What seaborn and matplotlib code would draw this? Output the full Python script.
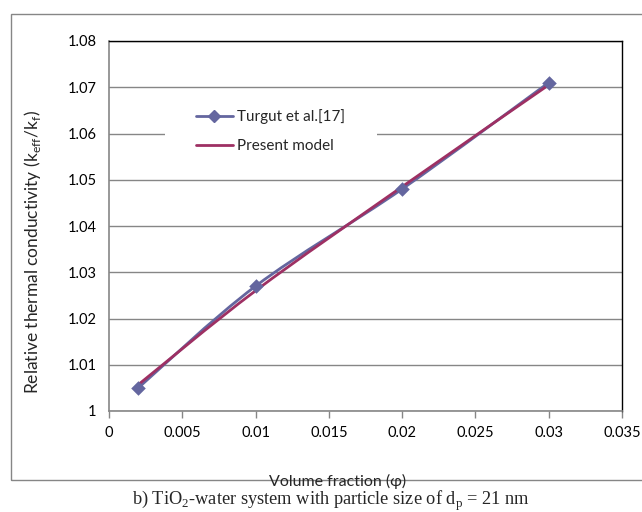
import numpy as np
import pandas as pd
import matplotlib
matplotlib.use("Agg")
import matplotlib.pyplot as plt
import seaborn as sns
from matplotlib.path import Path
from matplotlib.patches import PathPatch, Rectangle
from matplotlib.lines import Line2D

# ---- data ----
phi = [0.002, 0.01, 0.02, 0.03]
turgut = [1.005, 1.027, 1.048, 1.071]
model = [1.0057, 1.026, 1.0485, 1.0705]
series_names = ["Turgut et al.[17]", "Present model"]
x_ticks = [0, 0.005, 0.01, 0.015, 0.02, 0.025, 0.03, 0.035]
x_tick_labels = ["0", "0.005", "0.01", "0.015", "0.02", "0.025", "0.03", "0.035"]
y_ticks = [1, 1.01, 1.02, 1.03, 1.04, 1.05, 1.06, 1.07, 1.08]
y_tick_labels = ["1", "1.01", "1.02", "1.03", "1.04", "1.05", "1.06", "1.07", "1.08"]

C_T = "#64669f"
C_M = "#9e3063"
GRAY = "#868686"

sns.set_theme(style="white")
plt.rcParams["font.family"] = ["Lato", "DejaVu Sans"]

W, H = 642, 512
fig = plt.figure(figsize=(W / 100, H / 100), dpi=100)
fig.patch.set_facecolor("white")

# outer chart frame
fig.patches.append(Rectangle((11 / W, 1 - 480 / H), 1.0, (480 - 14) / H,
                             transform=fig.transFigure, fill=False,
                             edgecolor=GRAY, lw=1.0, zorder=0))

ax = fig.add_axes([109 / W, 1 - 411 / H, 513 / W, 370 / H])
ax.set_facecolor("white")


def smooth_path(x, y):
    pts = np.column_stack([x, y]).astype(float)
    n = len(pts)
    verts = [pts[0]]
    codes = [Path.MOVETO]
    for i in range(n - 1):
        p0 = pts[i - 1] if i > 0 else pts[i]
        p1, p2 = pts[i], pts[i + 1]
        p3 = pts[i + 2] if i + 2 < n else pts[i + 1]
        c1 = p1 + (p2 - p0) / 6.0
        c2 = p2 - (p3 - p1) / 6.0
        verts += [c1, c2, p2]
        codes += [Path.CURVE4] * 3
    return Path(verts, codes)


df = pd.DataFrame({"phi": phi, "turgut": turgut, "model": model})

# markers for measured data via seaborn
sns.scatterplot(data=df, x="phi", y="turgut", marker="D", s=55, color=C_T,
                edgecolor=C_T, linewidth=0, ax=ax, zorder=5, legend=False)
# smoothed lines (Excel-style smoothing)
ax.add_patch(PathPatch(smooth_path(phi, turgut), fill=False, edgecolor=C_T, lw=2.0, zorder=4))
ax.add_patch(PathPatch(smooth_path(phi, model), fill=False, edgecolor=C_M, lw=2.0, zorder=4))

ax.set_xlim(0, 0.035)
ax.set_ylim(1, 1.08)
ax.set_xticks(x_ticks)
ax.set_xticklabels(x_tick_labels)
ax.set_yticks(y_ticks)
ax.set_yticklabels(y_tick_labels)
ax.tick_params(axis="x", length=5, width=1, color=GRAY, direction="out", pad=6,
               labelsize=10.5, labelcolor="black", bottom=True)
ax.tick_params(axis="y", length=0, pad=9, labelsize=10.5, labelcolor="black", left=True)
ax.yaxis.grid(True, color=GRAY, lw=1.0, zorder=1)
ax.xaxis.grid(False)
ax.set_axisbelow(True)
for s in ["top", "right"]:
    ax.spines[s].set_color("black")
    ax.spines[s].set_linewidth(1.0)
for s in ["left", "bottom"]:
    ax.spines[s].set_color(GRAY)
    ax.spines[s].set_linewidth(1.2)

ax.set_xlabel("")
ax.set_ylabel(r"Relative thermal conductivity (k$_{\mathregular{eff}}$/k$_{\mathregular{f}}$)",
              fontsize=12.5)
ax.yaxis.set_label_coords((43 - 109) / 513, 0.43)

# legend background (covers gridline)
ax.add_patch(Rectangle(((165 - 109) / 513, 1 - (165 - 41) / 370),
                       (377 - 165) / 513, (165 - 104) / 370,
                       transform=ax.transAxes, facecolor="white",
                       edgecolor="none", zorder=2))
handles = [Line2D([], [], color=C_T, lw=2, marker="D", markersize=6),
           Line2D([], [], color=C_M, lw=2)]
ax.legend(handles, series_names, loc="upper left",
          bbox_to_anchor=((196 - 109) / 513, 1 - (109 - 41) / 370),
          frameon=False, fontsize=11, handlelength=2.4, handletextpad=0.3,
          borderpad=0, borderaxespad=0, labelspacing=1.0)

fig.text(338 / W, 1 - 481 / H, "Volume fraction (φ)", ha="center", va="center",
         fontsize=11.5)
fig.text(331 / W, 1 - 501 / H,
         r"b) TiO$_{\mathregular{2}}$-water system with particle size of d$_{\mathregular{p}}$ = 21 nm",
         ha="center", va="center", fontsize=13.2, family=["Liberation Serif", "DejaVu Serif"])

fig.savefig("out.png", dpi=100)
